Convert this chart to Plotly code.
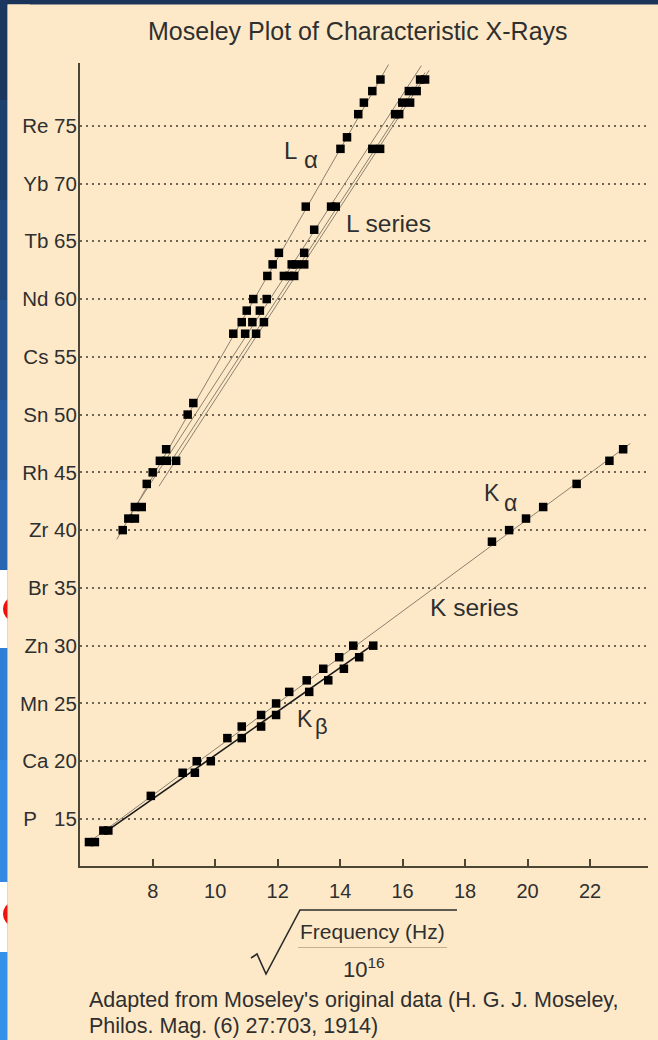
import plotly.graph_objects as go

# ---------------- data ----------------
# K series: atomic number Z vs sqrt(frequency / 1e16)
KA_Z = [13, 14, 17, 19, 20, 22, 23, 24, 25, 26, 27, 28, 29, 30, 39, 40, 41, 42, 44, 46, 47]
KA_X = [5.96, 6.42, 7.94, 8.96, 9.41, 10.39, 10.85, 11.47, 11.95, 12.37, 12.93, 13.46, 13.97,
        14.42, 18.86, 19.41, 19.95, 20.50, 21.57, 22.62, 23.06]
KB_Z = [13, 14, 19, 20, 22, 23, 24, 26, 27, 28, 29, 30]
KB_X = [6.15, 6.58, 9.35, 9.86, 10.85, 11.47, 11.95, 13.01, 13.62, 14.12, 14.61, 15.06]

# L series
LA_Z = [40, 41, 42, 44, 45, 46, 47, 50, 51, 57, 58, 59, 60, 62, 63, 64, 68, 73, 74, 76, 77, 78, 79]
LA_X = [7.04, 7.22, 7.43, 7.81, 8.00, 8.23, 8.43, 9.12, 9.30, 10.58, 10.85, 11.01, 11.22, 11.67,
        11.84, 12.04, 12.90, 14.01, 14.22, 14.58, 14.76, 15.03, 15.29]
LO_Z = [41, 42, 46, 46, 57, 57, 58, 58, 59, 60, 62, 62, 62, 63, 63, 63, 64, 66, 68, 68,
        73, 73, 76, 76, 77, 77, 78, 78, 79, 79]
LO_X = [7.43, 7.65, 8.45, 8.75, 10.96, 11.31, 11.19, 11.56, 11.43, 11.65, 12.20, 12.37, 12.53,
        12.45, 12.58, 12.85, 12.85, 13.17, 13.71, 13.86, 15.03, 15.28, 15.76, 15.89, 15.99,
        16.24, 16.20, 16.45, 16.56, 16.72]

# fitted straight lines (end points): (Z pair, x pair)
KA_LINE_Z, KA_LINE_X = [12.95, 47.5], [5.94, 23.29]
KB_LINE_Z, KB_LINE_X = [13.9, 30.3], [6.50, 15.17]
LA_LINE_Z, LA_LINE_X = [39.2, 80.3], [6.85, 15.55]
LB_LINE_Z, LB_LINE_X = [41.0, 80.2], [7.20, 16.60]
LG_LINE_Z, LG_LINE_X = [46.0, 79.6], [8.60, 16.72]
LD_LINE_Z, LD_LINE_X = [43.8, 79.8], [8.20, 16.85]

Y_TICKS = [15, 20, 25, 30, 35, 40, 45, 50, 55, 60, 65, 70, 75]
Y_LABELS = ["P\u00a0\u00a0\u00a015", "Ca 20", "Mn 25", "Zn 30", "Br 35", "Zr 40", "Rh 45",
            "Sn 50", "Cs 55", "Nd 60", "Tb 65", "Yb 70", "Re 75"]
X_TICKS = [8, 10, 12, 14, 16, 18, 20, 22]

# ---------------- styling / layout helpers ----------------
W, H = 658, 1040
PL, PR, PT, PB = 80, 648, 63, 866
FONT = "Liberation Sans, Arial, Helvetica, sans-serif"
TXT = "#2f2f2f"
BEIGE = "#fde9c8"
NAVY = "#1a3359"
LINEC = "#8b8170"
AXC = "#4d4535"


def fx(px):
    return (px - PL) / (PR - PL)


def fy(py):
    return (PB - py) / (PB - PT)


fig = go.Figure()


def add_line(zs, xs, color=LINEC, width=1.0):
    fig.add_trace(go.Scatter(x=xs, y=zs, mode="lines", line=dict(color=color, width=width),
                             hoverinfo="skip", showlegend=False))


add_line(KA_LINE_Z, KA_LINE_X)
add_line(KB_LINE_Z, KB_LINE_X, color="#1a1a1a", width=1.6)
add_line(LA_LINE_Z, LA_LINE_X)
add_line(LB_LINE_Z, LB_LINE_X)
add_line(LG_LINE_Z, LG_LINE_X)
add_line(LD_LINE_Z, LD_LINE_X)

for zs, xs in [(KA_Z, KA_X), (KB_Z, KB_X), (LA_Z, LA_X), (LO_Z, LO_X)]:
    fig.add_trace(go.Scatter(x=xs, y=zs, mode="markers",
                             marker=dict(symbol="square", size=8.5, color="black",
                                         line=dict(width=0)),
                             showlegend=False))

# ---------------- background strips (screenshot frame) ----------------
shapes = []
shapes.append(dict(type="rect", xref="paper", yref="paper", layer="below",
                   x0=fx(7.5), x1=fx(W + 5), y0=fy(H + 5), y1=fy(4.5),
                   fillcolor=BEIGE, line=dict(width=0)))
left_blocks = [(0, 100, "#1b375f"), (100, 200, "#1d3f6d"), (200, 300, "#20487c"),
               (300, 400, "#23528d"), (400, 480, "#265c9f"), (480, 570, "#2966b2"),
               (570, 648, "#ffffff"), (648, 760, "#2f7fd6"), (760, 882, "#3389e2"),
               (882, 952, "#ffffff"), (952, 1045, "#3590ea")]
for y0, y1, c in left_blocks:
    shapes.append(dict(type="rect", xref="paper", yref="paper", layer="below",
                       x0=fx(-2), x1=fx(7.5), y0=fy(y1), y1=fy(y0),
                       fillcolor=c, line=dict(width=0)))
for yc in (609, 914):
    shapes.append(dict(type="circle", xref="paper", yref="paper", layer="below",
                       x0=fx(3), x1=fx(21), y0=fy(yc + 11), y1=fy(yc - 11),
                       fillcolor="#f01010", line=dict(width=0)))
shapes.append(dict(type="rect", xref="paper", yref="paper", layer="below",
                   x0=fx(7.5), x1=fx(30), y0=fy(H + 5), y1=fy(4.5),
                   fillcolor=BEIGE, line=dict(width=0)))

# radical sign and fraction bar of the x-axis title
rad_pts = [(251, 958), (257, 954), (266, 974), (300, 910), (457, 910)]
path = "M " + " L ".join(f"{fx(a):.5f},{fy(b):.5f}" for a, b in rad_pts)
shapes.append(dict(type="path", xref="paper", yref="paper", path=path,
                   line=dict(color="#2a2a2a", width=1.6)))
shapes.append(dict(type="line", xref="paper", yref="paper",
                   x0=fx(298), x1=fx(447), y0=fy(947.5), y1=fy(947.5),
                   line=dict(color="#c2b08f", width=1.2)))

# ---------------- annotations ----------------
ann = []


def text(px, py, s, size, xanchor="center", yanchor="middle", color=TXT):
    ann.append(dict(xref="paper", yref="paper", x=fx(px), y=fy(py), text=s, showarrow=False,
                    xanchor=xanchor, yanchor=yanchor,
                    font=dict(family=FONT, size=size, color=color)))


text(357.5, 31, "Moseley Plot of Characteristic X-Rays", 25)
text(290, 150, "L", 24)
text(311, 159, "α", 24)
text(388.7, 223, "L series", 24.5)
text(492.5, 493.5, "K", 23)
text(510, 503, "α", 23)
text(474.7, 607.5, "K series", 24.5)
text(305.3, 719, "K", 23)
text(321.7, 726, "β", 22)
text(372.8, 931, "Frequency (Hz)", 21)
text(364, 968, "10<sup>16</sup>", 22)
text(86.5, 1000, "Adapted from Moseley's original data (H. G. J. Moseley,", 21.5, xanchor="left")
text(86.5, 1026, "Philos. Mag. (6) 27:703, 1914)", 21.5, xanchor="left")

fig.update_layout(
    width=W, height=H, autosize=False,
    margin=dict(l=PL, r=W - PR, t=PT, b=H - PB, pad=0),
    paper_bgcolor=NAVY, plot_bgcolor="rgba(0,0,0,0)",
    shapes=shapes, annotations=ann,
    font=dict(family=FONT, color=TXT),
    showlegend=False,
    xaxis=dict(range=[5.673, 23.855], tickmode="array", tickvals=X_TICKS,
               ticktext=[str(v) for v in X_TICKS],
               showgrid=False, zeroline=False, showline=True, linecolor=AXC, linewidth=2,
               ticks="inside", ticklen=7, tickwidth=1.5, tickcolor=AXC,
               tickfont=dict(family=FONT, size=20, color=TXT), ticklabelstandoff=6),
    yaxis=dict(range=[10.93, 80.43], tickmode="array", tickvals=Y_TICKS, ticktext=Y_LABELS,
               showgrid=True, gridcolor="#6f6554", gridwidth=1.8, griddash="2px,4px",
               zeroline=False, showline=True, linecolor=AXC, linewidth=2,
               ticks="", tickfont=dict(family=FONT, size=20.5, color=TXT),
               ticklabelstandoff=-3),
)

fig.write_html(
    "out.html",
    config={"displayModeBar": False},
    post_script="document.body.style.margin='0';document.body.style.overflow='hidden';"
                "document.body.style.background='" + NAVY + "';",
)
